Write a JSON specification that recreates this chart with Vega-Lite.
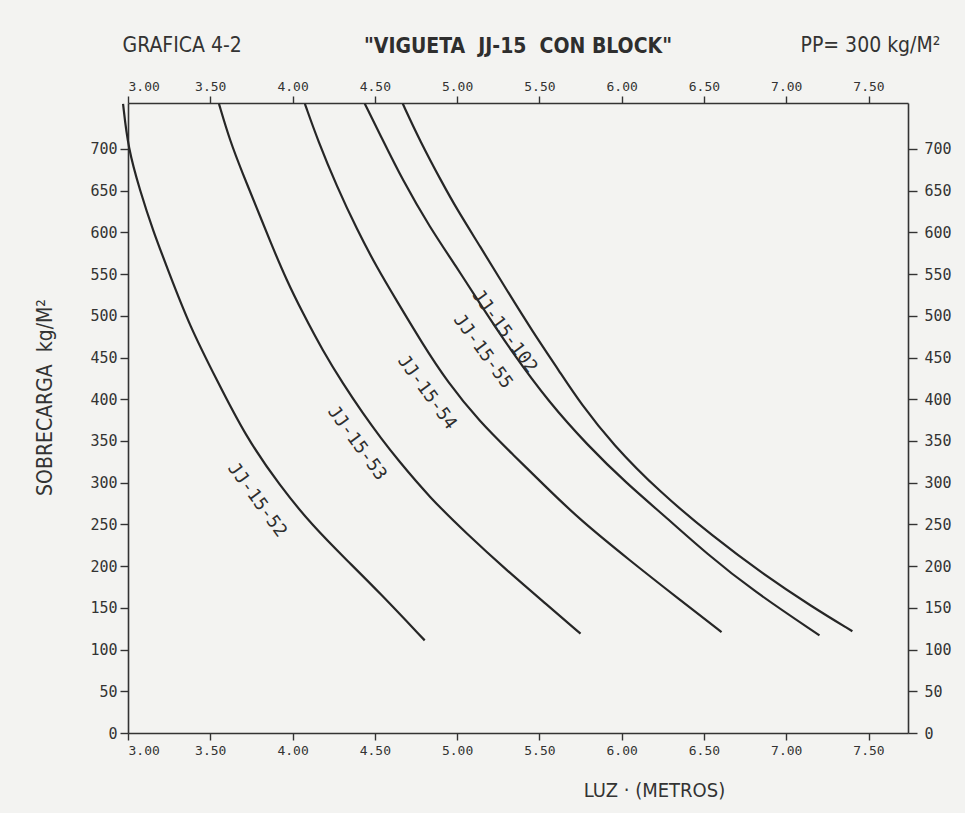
{
  "$schema": "https://vega.github.io/schema/vega-lite/v6.json",
  "width": 780,
  "height": 630,
  "autosize": {"type": "none"},
  "padding": {"left": 128, "top": 103, "right": 57, "bottom": 80},
  "background": "#f3f3f1",
  "title": {
    "text": "\"VIGUETA \u00a0JJ-15 \u00a0CON BLOCK\"",
    "font": "DejaVu Sans Condensed",
    "fontSize": 21,
    "fontWeight": "bold",
    "color": "#2e2e2e",
    "anchor": "middle",
    "frame": "group",
    "dy": 27
  },
  "config": {
    "view": {"stroke": null},
    "axis": {
      "grid": false,
      "domainColor": "#333333",
      "domainWidth": 1.6,
      "tickColor": "#333333",
      "tickWidth": 1.4,
      "labelColor": "#333333",
      "titleColor": "#333333",
      "labelFont": "DejaVu Sans Mono",
      "titleFont": "DejaVu Sans Condensed",
      "titleFontWeight": "normal"
    }
  },
  "datasets": {
    "curves": [
      {"serie": "JJ-15-52", "luz": 2.97, "carga": 754},
      {"serie": "JJ-15-52", "luz": 3.0, "carga": 701},
      {"serie": "JJ-15-52", "luz": 3.073, "carga": 650},
      {"serie": "JJ-15-52", "luz": 3.152, "carga": 602},
      {"serie": "JJ-15-52", "luz": 3.243, "carga": 555},
      {"serie": "JJ-15-52", "luz": 3.376, "carga": 487},
      {"serie": "JJ-15-52", "luz": 3.54, "carga": 423},
      {"serie": "JJ-15-52", "luz": 3.71, "carga": 357},
      {"serie": "JJ-15-52", "luz": 3.923, "carga": 296},
      {"serie": "JJ-15-52", "luz": 4.123, "carga": 248},
      {"serie": "JJ-15-52", "luz": 4.33, "carga": 207},
      {"serie": "JJ-15-52", "luz": 4.53, "carga": 168},
      {"serie": "JJ-15-52", "luz": 4.803, "carga": 111},
      {"serie": "JJ-15-53", "luz": 3.553, "carga": 754},
      {"serie": "JJ-15-53", "luz": 3.619, "carga": 710},
      {"serie": "JJ-15-53", "luz": 3.698, "carga": 670},
      {"serie": "JJ-15-53", "luz": 3.783, "carga": 629},
      {"serie": "JJ-15-53", "luz": 3.862, "carga": 590},
      {"serie": "JJ-15-53", "luz": 3.965, "carga": 542},
      {"serie": "JJ-15-53", "luz": 4.063, "carga": 503},
      {"serie": "JJ-15-53", "luz": 4.184, "carga": 458},
      {"serie": "JJ-15-53", "luz": 4.305, "carga": 419},
      {"serie": "JJ-15-53", "luz": 4.427, "carga": 383},
      {"serie": "JJ-15-53", "luz": 4.542, "carga": 352},
      {"serie": "JJ-15-53", "luz": 4.633, "carga": 329},
      {"serie": "JJ-15-53", "luz": 4.834, "carga": 282},
      {"serie": "JJ-15-53", "luz": 5.058, "carga": 239},
      {"serie": "JJ-15-53", "luz": 5.301, "carga": 195},
      {"serie": "JJ-15-53", "luz": 5.544, "carga": 154},
      {"serie": "JJ-15-53", "luz": 5.75, "carga": 119},
      {"serie": "JJ-15-54", "luz": 4.075, "carga": 754},
      {"serie": "JJ-15-54", "luz": 4.154, "carga": 710},
      {"serie": "JJ-15-54", "luz": 4.269, "carga": 655},
      {"serie": "JJ-15-54", "luz": 4.39, "carga": 604},
      {"serie": "JJ-15-54", "luz": 4.512, "carga": 558},
      {"serie": "JJ-15-54", "luz": 4.633, "carga": 518},
      {"serie": "JJ-15-54", "luz": 4.785, "carga": 468},
      {"serie": "JJ-15-54", "luz": 4.94, "carga": 421},
      {"serie": "JJ-15-54", "luz": 5.137, "carga": 373},
      {"serie": "JJ-15-54", "luz": 5.338, "carga": 334},
      {"serie": "JJ-15-54", "luz": 5.544, "carga": 294},
      {"serie": "JJ-15-54", "luz": 5.744, "carga": 256},
      {"serie": "JJ-15-54", "luz": 6.048, "carga": 207},
      {"serie": "JJ-15-54", "luz": 6.351, "carga": 160},
      {"serie": "JJ-15-54", "luz": 6.607, "carga": 121},
      {"serie": "JJ-15-55", "luz": 4.439, "carga": 754},
      {"serie": "JJ-15-55", "luz": 4.53, "carga": 718},
      {"serie": "JJ-15-55", "luz": 4.67, "carga": 662},
      {"serie": "JJ-15-55", "luz": 4.834, "carga": 606},
      {"serie": "JJ-15-55", "luz": 4.998, "carga": 558},
      {"serie": "JJ-15-55", "luz": 5.137, "carga": 515},
      {"serie": "JJ-15-55", "luz": 5.338, "carga": 455},
      {"serie": "JJ-15-55", "luz": 5.56, "carga": 396},
      {"serie": "JJ-15-55", "luz": 5.787, "carga": 346},
      {"serie": "JJ-15-55", "luz": 6.03, "carga": 299},
      {"serie": "JJ-15-55", "luz": 6.273, "carga": 258},
      {"serie": "JJ-15-55", "luz": 6.516, "carga": 215},
      {"serie": "JJ-15-55", "luz": 6.795, "carga": 171},
      {"serie": "JJ-15-55", "luz": 7.202, "carga": 117},
      {"serie": "JJ-15-102", "luz": 4.67, "carga": 754},
      {"serie": "JJ-15-102", "luz": 4.773, "carga": 710},
      {"serie": "JJ-15-102", "luz": 4.913, "carga": 658},
      {"serie": "JJ-15-102", "luz": 4.998, "carga": 628},
      {"serie": "JJ-15-102", "luz": 5.137, "carga": 584},
      {"serie": "JJ-15-102", "luz": 5.301, "carga": 531},
      {"serie": "JJ-15-102", "luz": 5.459, "carga": 481},
      {"serie": "JJ-15-102", "luz": 5.623, "carga": 433},
      {"serie": "JJ-15-102", "luz": 5.75, "carga": 395},
      {"serie": "JJ-15-102", "luz": 5.945, "carga": 346},
      {"serie": "JJ-15-102", "luz": 6.23, "carga": 289},
      {"serie": "JJ-15-102", "luz": 6.552, "carga": 236},
      {"serie": "JJ-15-102", "luz": 6.855, "carga": 191},
      {"serie": "JJ-15-102", "luz": 7.159, "carga": 151},
      {"serie": "JJ-15-102", "luz": 7.402, "carga": 122}
    ],
    "labels": [
      {"serie": "JJ-15-52", "luz": 3.783, "carga": 279},
      {"serie": "JJ-15-53", "luz": 4.39, "carga": 347},
      {"serie": "JJ-15-54", "luz": 4.815, "carga": 408},
      {"serie": "JJ-15-55", "luz": 5.155, "carga": 457},
      {"serie": "JJ-15-102", "luz": 5.287, "carga": 481}
    ]
  },
  "resolve": {"axis": {"x": "independent", "y": "independent"}},
  "layer": [
    {
      "data": {"name": "curves"},
      "mark": {"type": "line", "interpolate": "basis", "strokeWidth": 2.2, "color": "#262626", "clip": false},
      "encoding": {
        "x": {
          "field": "luz", "type": "quantitative",
          "scale": {"domain": [3, 7.74], "zero": false, "nice": false},
          "axis": {
            "orient": "bottom",
            "values": [3, 3.5, 4, 4.5, 5, 5.5, 6, 6.5, 7, 7.5],
            "format": ".2f",
            "labelFontSize": 13,
            "tickSize": 7,
            "labelPadding": 4,
            "title": "LUZ · (METROS)",
            "titleFontSize": 20,
            "titleX": 526,
            "titleY": 57,
            "titleAlign": "center",
            "titleBaseline": "middle"
          }
        },
        "y": {
          "field": "carga", "type": "quantitative",
          "scale": {"domain": [0, 755], "nice": false},
          "axis": {
            "orient": "left",
            "values": [0, 50, 100, 150, 200, 250, 300, 350, 400, 450, 500, 550, 600, 650, 700],
            "labelFontSize": 15,
            "tickSize": 8,
            "labelPadding": 3,
            "title": "SOBRECARGA \u00a0kg/M²",
            "titleFontSize": 21,
            "titleX": -83,
            "titleY": 294,
            "titleAlign": "center",
            "titleBaseline": "middle"
          }
        },
        "detail": {"field": "serie", "type": "nominal"}
      }
    },
    {
      "data": {"name": "labels"},
      "mark": {"type": "text", "angle": 54, "font": "DejaVu Sans Mono", "fontSize": 18, "color": "#2e2e2e", "align": "center", "baseline": "middle"},
      "encoding": {
        "x": {
          "field": "luz", "type": "quantitative",
          "axis": {
            "orient": "top",
            "values": [3, 3.5, 4, 4.5, 5, 5.5, 6, 6.5, 7, 7.5],
            "format": ".2f",
            "labelFontSize": 13,
            "tickSize": 7,
            "labelPadding": 3,
            "title": "GRAFICA 4-2",
            "titleFontSize": 21,
            "titleX": -6,
            "titleY": -58,
            "titleAlign": "left",
            "titleBaseline": "middle"
          }
        },
        "y": {
          "field": "carga", "type": "quantitative",
          "axis": {
            "orient": "right",
            "values": [0, 50, 100, 150, 200, 250, 300, 350, 400, 450, 500, 550, 600, 650, 700],
            "labelFontSize": 15,
            "tickSize": 9,
            "labelPadding": 7,
            "title": "PP= 300 kg/M²",
            "titleFontSize": 21,
            "titleAngle": 0,
            "titleX": -108,
            "titleY": -58,
            "titleAlign": "left",
            "titleBaseline": "middle"
          }
        },
        "text": {"field": "serie", "type": "nominal"}
      }
    }
  ]
}
